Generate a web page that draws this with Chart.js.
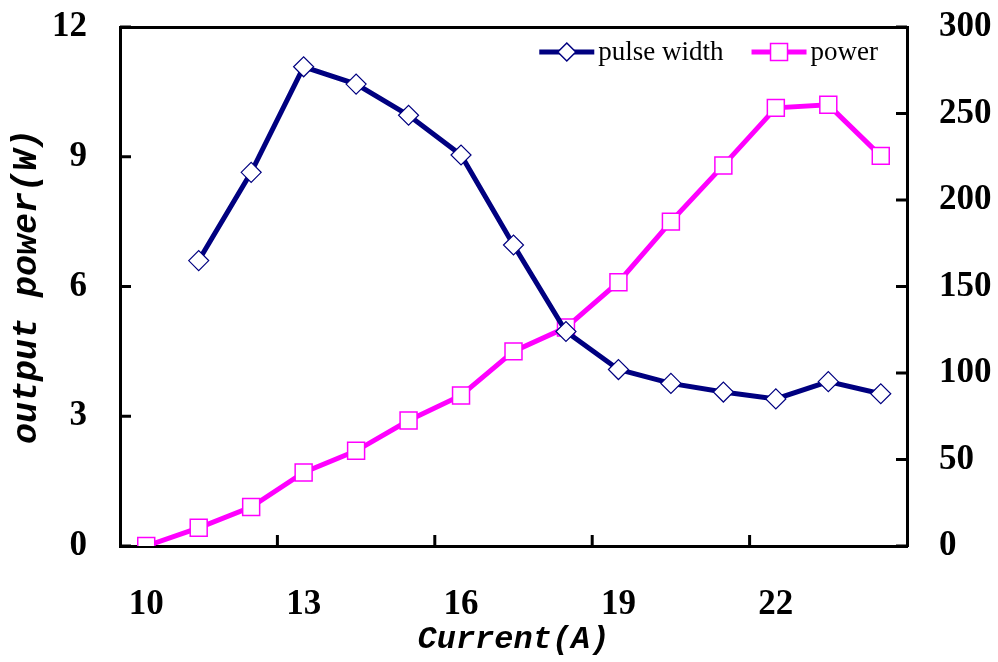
<!DOCTYPE html>
<html><head><meta charset="utf-8">
<script src="https://cdn.jsdelivr.net/npm/chart.js@4/dist/chart.umd.min.js"></script>
<style>html,body{margin:0;padding:0;background:#fff}#wrap{width:998px;height:662px}</style>
</head><body><div id="wrap"><canvas id="c" width="998" height="662"></canvas></div>
<script>
const currents = ['10','11','12','13','14','15','16','17','18','19','20','21','22','23','24'];
const pulseWidth = [null,165,216,277,267,249,226,174,124,102,94,89,85,95,88];
const outputPower = [0,0.42,0.9,1.7,2.2,2.9,3.48,4.5,5.05,6.1,7.5,8.8,10.13,10.2,9.02];
const leftTicks = [0,3,6,9,12];
const rightTicks = [0,50,100,150,200,250,300];
const xLabelEvery = 3;
const seriesNames = ['pulse width', 'power'];

const NAVY = '#000080', MAG = '#ff00ff';

const innerTicks = {
  id: 'innerTicks',
  afterDraw(chart){
    const ctx = chart.ctx, a = chart.chartArea, L = 11;
    ctx.save(); ctx.strokeStyle = '#000'; ctx.lineWidth = 3;
    const x = chart.scales.x;
    for (let i = xLabelEvery; i < currents.length; i += xLabelEvery){
      const px = (x.getPixelForValue(i) + x.getPixelForValue(i-1)) / 2;
      ctx.beginPath(); ctx.moveTo(px, a.bottom); ctx.lineTo(px, a.bottom - L); ctx.stroke();
    }
    const y = chart.scales.y;
    leftTicks.forEach(v => { const py = y.getPixelForValue(v);
      ctx.beginPath(); ctx.moveTo(a.left, py); ctx.lineTo(a.left + L, py); ctx.stroke(); });
    const y1 = chart.scales.y1;
    rightTicks.forEach(v => { const py = y1.getPixelForValue(v);
      ctx.beginPath(); ctx.moveTo(a.right, py); ctx.lineTo(a.right - L, py); ctx.stroke(); });
    ctx.restore();
  }
};

// legend drawn inside the plot, top-right (line sample + marker + text)
const innerLegend = {
  id: 'innerLegend',
  afterDraw(chart){
    const ctx = chart.ctx, a = chart.chartArea;
    const font = '27px "Liberation Serif", serif';
    const iconW = 55, gapIconText = 4, gapItems = 28;
    ctx.save();
    ctx.font = font;
    const items = chart.data.datasets.map((ds, i) => ({
      text: seriesNames[i], color: ds.borderColor, shape: ds.pointStyle, w: ctx.measureText(seriesNames[i]).width
    }));
    const total = items.reduce((s, it) => s + iconW + gapIconText + it.w, 0) + gapItems * (items.length - 1);
    let x = a.right - 29 - total;
    const cy = a.top + 25;
    items.forEach(it => {
      ctx.strokeStyle = it.color; ctx.lineWidth = 5;
      ctx.beginPath(); ctx.moveTo(x, cy); ctx.lineTo(x + iconW, cy); ctx.stroke();
      const mx = x + iconW / 2;
      ctx.fillStyle = '#fff'; ctx.lineWidth = 1.5; ctx.beginPath();
      if (it.shape === 'rectRot') { ctx.moveTo(mx, cy - 9); ctx.lineTo(mx + 9, cy); ctx.lineTo(mx, cy + 9); ctx.lineTo(mx - 9, cy); ctx.closePath(); }
      else { ctx.rect(mx - 8.5, cy - 8.5, 17, 17); }
      ctx.fill(); ctx.stroke();
      x += iconW + gapIconText;
      ctx.fillStyle = '#000'; ctx.textBaseline = 'middle'; ctx.textAlign = 'left';
      ctx.fillText(it.text, x, cy + 1);
      x += it.w + gapItems;
    });
    ctx.restore();
  }
};

const tickFont = {family: '"Liberation Serif", serif', size: 35, weight: 'bold', lineHeight: 1};
const fixY = w => s => { s.width = w; s.paddingTop = 0; s.paddingBottom = 0; };

new Chart(document.getElementById('c'), {
  type: 'line',
  data: {
    labels: currents,
    datasets: [
      { label: seriesNames[0], data: pulseWidth, yAxisID: 'y1',
        borderColor: NAVY, borderWidth: 5, backgroundColor: '#fff',
        pointStyle: 'rectRot', pointRadius: 10, pointBorderColor: NAVY, pointBorderWidth: 1.2,
        pointBackgroundColor: '#fff', tension: 0, spanGaps: false },
      { label: seriesNames[1], data: outputPower, yAxisID: 'y',
        borderColor: MAG, borderWidth: 5, backgroundColor: '#fff',
        pointStyle: 'rect', pointRadius: 12, pointBorderColor: MAG, pointBorderWidth: 1.5,
        pointBackgroundColor: '#fff', tension: 0 }
    ]
  },
  options: {
    responsive: false, animation: false,
    layout: { padding: 0, autoPadding: false },
    plugins: { tooltip: { enabled: false }, legend: { display: false } },
    scales: {
      x: {
        type: 'category', position: 'bottom', offset: true,
        afterFit: s => { s.height = 116; s.paddingLeft = 0; s.paddingRight = 0; },
        grid: { display: true, drawOnChartArea: false, drawTicks: false, offset: true },
        border: { display: true, color: '#000', width: 3 },
        ticks: { autoSkip: false, maxRotation: 0, padding: 41, color: '#000', font: tickFont,
          callback: (v, i) => (i % xLabelEvery === 0 ? currents[i] : '') },
        title: { display: true, text: 'Current(A)', color: '#000', padding: {top: 4, bottom: 4},
          font: { family: '"Liberation Mono", monospace', size: 32, style: 'italic', weight: 'bold', lineHeight: 1.1 } }
      },
      xTop: {
        type: 'category', position: 'top', offset: true,
        afterFit: s => { s.height = 27; s.paddingLeft = 0; s.paddingRight = 0; },
        grid: { display: true, drawOnChartArea: false, drawTicks: false },
        border: { display: true, color: '#000', width: 3 },
        ticks: { display: false }
      },
      y: {
        position: 'left', min: 0, max: 12,
        afterFit: fixY(120),
        afterBuildTicks: s => { s.ticks = leftTicks.map(v => ({value: v})); },
        grid: { display: true, drawOnChartArea: false, drawTicks: false },
        border: { display: true, color: '#000', width: 3 },
        ticks: { padding: 33, color: '#000', font: tickFont },
        title: { display: true, text: 'output power(W)', color: '#000', padding: {top: 10, bottom: 4},
          font: { family: '"Liberation Mono", monospace', size: 35, style: 'italic', weight: 'bold', lineHeight: 1 } }
      },
      y1: {
        position: 'right', min: 0, max: 300,
        afterFit: fixY(91),
        afterBuildTicks: s => { s.ticks = rightTicks.map(v => ({value: v})); },
        grid: { display: true, drawOnChartArea: false, drawTicks: false },
        border: { display: true, color: '#000', width: 3 },
        ticks: { padding: 32, color: '#000', font: tickFont }
      }
    }
  },
  plugins: [innerTicks, innerLegend]
});
</script>
</body></html>
